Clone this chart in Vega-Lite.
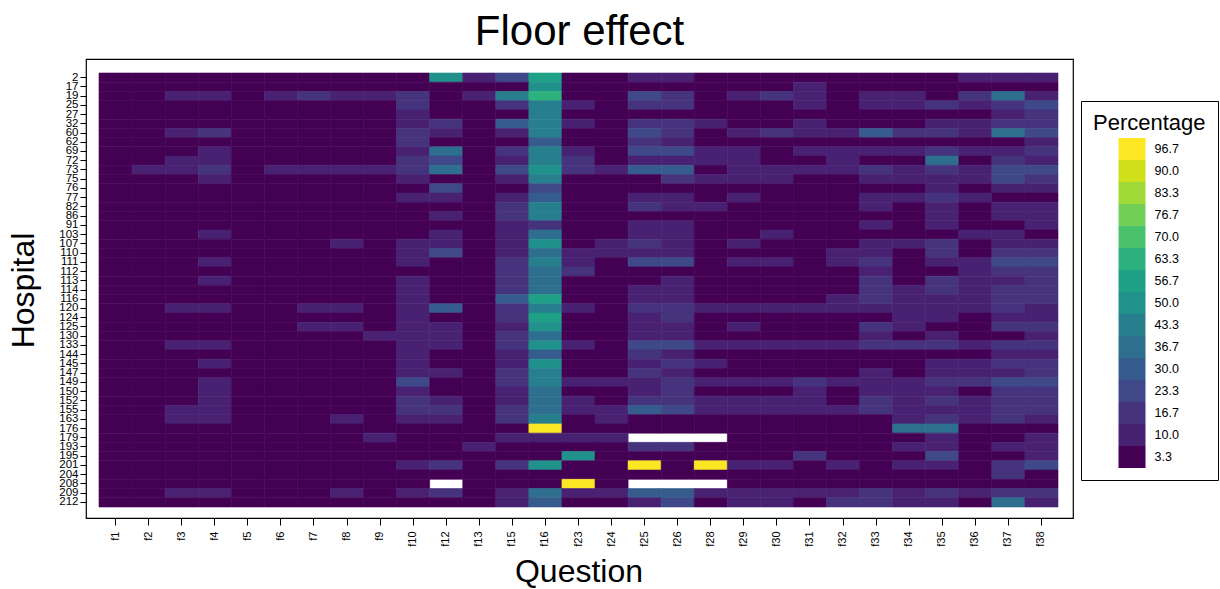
{
"$schema": "https://vega.github.io/schema/vega-lite/v6.json",
"width": 987,
"height": 459,
"autosize": {"type": "none"},
"padding": {"left": 86, "top": 59, "right": 147, "bottom": 71},
"background": "white",
"title": {"text": "Floor effect", "fontSize": 42, "fontWeight": "normal", "color": "black", "anchor": "middle", "frame": "group", "baseline": "alphabetic", "offset": 13, "dy": 41},
"config": {"view": {"stroke": "black", "strokeWidth": 1.2}, "font": "Liberation Sans"},
"data": {"values": [
{"h":2,"q":"f1","p":3.3},{"h":2,"q":"f2","p":3.3},{"h":2,"q":"f3","p":3.3},{"h":2,"q":"f4","p":3.3},{"h":2,"q":"f5","p":3.3},{"h":2,"q":"f6","p":3.3},{"h":2,"q":"f7","p":3.3},{"h":2,"q":"f8","p":3.3},{"h":2,"q":"f9","p":3.3},{"h":2,"q":"f10","p":3.3},{"h":2,"q":"f12","p":50},{"h":2,"q":"f13","p":10},{"h":2,"q":"f15","p":23.3},{"h":2,"q":"f16","p":56.7},{"h":2,"q":"f23","p":3.3},{"h":2,"q":"f24","p":3.3},{"h":2,"q":"f25","p":10},{"h":2,"q":"f26","p":10},{"h":2,"q":"f28","p":3.3},{"h":2,"q":"f29","p":3.3},{"h":2,"q":"f30","p":3.3},{"h":2,"q":"f31","p":3.3},{"h":2,"q":"f32","p":3.3},{"h":2,"q":"f33","p":3.3},{"h":2,"q":"f34","p":3.3},{"h":2,"q":"f35","p":3.3},{"h":2,"q":"f36","p":10},{"h":2,"q":"f37","p":10},{"h":2,"q":"f38","p":10},
{"h":17,"q":"f1","p":3.3},{"h":17,"q":"f2","p":3.3},{"h":17,"q":"f3","p":3.3},{"h":17,"q":"f4","p":3.3},{"h":17,"q":"f5","p":3.3},{"h":17,"q":"f6","p":3.3},{"h":17,"q":"f7","p":3.3},{"h":17,"q":"f8","p":3.3},{"h":17,"q":"f9","p":3.3},{"h":17,"q":"f10","p":3.3},{"h":17,"q":"f12","p":3.3},{"h":17,"q":"f13","p":3.3},{"h":17,"q":"f15","p":3.3},{"h":17,"q":"f16","p":50},{"h":17,"q":"f23","p":3.3},{"h":17,"q":"f24","p":3.3},{"h":17,"q":"f25","p":3.3},{"h":17,"q":"f26","p":3.3},{"h":17,"q":"f28","p":3.3},{"h":17,"q":"f29","p":3.3},{"h":17,"q":"f30","p":3.3},{"h":17,"q":"f31","p":10},{"h":17,"q":"f32","p":3.3},{"h":17,"q":"f33","p":3.3},{"h":17,"q":"f34","p":3.3},{"h":17,"q":"f35","p":3.3},{"h":17,"q":"f36","p":3.3},{"h":17,"q":"f37","p":3.3},{"h":17,"q":"f38","p":3.3},
{"h":19,"q":"f1","p":3.3},{"h":19,"q":"f2","p":3.3},{"h":19,"q":"f3","p":10},{"h":19,"q":"f4","p":10},{"h":19,"q":"f5","p":3.3},{"h":19,"q":"f6","p":10},{"h":19,"q":"f7","p":16.7},{"h":19,"q":"f8","p":10},{"h":19,"q":"f9","p":10},{"h":19,"q":"f10","p":16.7},{"h":19,"q":"f12","p":3.3},{"h":19,"q":"f13","p":10},{"h":19,"q":"f15","p":43.3},{"h":19,"q":"f16","p":63.3},{"h":19,"q":"f23","p":3.3},{"h":19,"q":"f24","p":3.3},{"h":19,"q":"f25","p":23.3},{"h":19,"q":"f26","p":16.7},{"h":19,"q":"f28","p":3.3},{"h":19,"q":"f29","p":10},{"h":19,"q":"f30","p":16.7},{"h":19,"q":"f31","p":10},{"h":19,"q":"f32","p":3.3},{"h":19,"q":"f33","p":10},{"h":19,"q":"f34","p":10},{"h":19,"q":"f35","p":3.3},{"h":19,"q":"f36","p":16.7},{"h":19,"q":"f37","p":36.7},{"h":19,"q":"f38","p":10},
{"h":25,"q":"f1","p":3.3},{"h":25,"q":"f2","p":3.3},{"h":25,"q":"f3","p":3.3},{"h":25,"q":"f4","p":3.3},{"h":25,"q":"f5","p":3.3},{"h":25,"q":"f6","p":3.3},{"h":25,"q":"f7","p":3.3},{"h":25,"q":"f8","p":3.3},{"h":25,"q":"f9","p":3.3},{"h":25,"q":"f10","p":16.7},{"h":25,"q":"f12","p":3.3},{"h":25,"q":"f13","p":3.3},{"h":25,"q":"f15","p":16.7},{"h":25,"q":"f16","p":43.3},{"h":25,"q":"f23","p":10},{"h":25,"q":"f24","p":3.3},{"h":25,"q":"f25","p":16.7},{"h":25,"q":"f26","p":16.7},{"h":25,"q":"f28","p":3.3},{"h":25,"q":"f29","p":3.3},{"h":25,"q":"f30","p":3.3},{"h":25,"q":"f31","p":10},{"h":25,"q":"f32","p":3.3},{"h":25,"q":"f33","p":10},{"h":25,"q":"f34","p":10},{"h":25,"q":"f35","p":16.7},{"h":25,"q":"f36","p":10},{"h":25,"q":"f37","p":16.7},{"h":25,"q":"f38","p":23.3},
{"h":27,"q":"f1","p":3.3},{"h":27,"q":"f2","p":3.3},{"h":27,"q":"f3","p":3.3},{"h":27,"q":"f4","p":3.3},{"h":27,"q":"f5","p":3.3},{"h":27,"q":"f6","p":3.3},{"h":27,"q":"f7","p":3.3},{"h":27,"q":"f8","p":3.3},{"h":27,"q":"f9","p":3.3},{"h":27,"q":"f10","p":10},{"h":27,"q":"f12","p":3.3},{"h":27,"q":"f13","p":3.3},{"h":27,"q":"f15","p":3.3},{"h":27,"q":"f16","p":43.3},{"h":27,"q":"f23","p":3.3},{"h":27,"q":"f24","p":3.3},{"h":27,"q":"f25","p":3.3},{"h":27,"q":"f26","p":3.3},{"h":27,"q":"f28","p":3.3},{"h":27,"q":"f29","p":3.3},{"h":27,"q":"f30","p":3.3},{"h":27,"q":"f31","p":3.3},{"h":27,"q":"f32","p":3.3},{"h":27,"q":"f33","p":3.3},{"h":27,"q":"f34","p":3.3},{"h":27,"q":"f35","p":3.3},{"h":27,"q":"f36","p":3.3},{"h":27,"q":"f37","p":10},{"h":27,"q":"f38","p":16.7},
{"h":32,"q":"f1","p":3.3},{"h":32,"q":"f2","p":3.3},{"h":32,"q":"f3","p":3.3},{"h":32,"q":"f4","p":3.3},{"h":32,"q":"f5","p":3.3},{"h":32,"q":"f6","p":3.3},{"h":32,"q":"f7","p":3.3},{"h":32,"q":"f8","p":3.3},{"h":32,"q":"f9","p":3.3},{"h":32,"q":"f10","p":10},{"h":32,"q":"f12","p":16.7},{"h":32,"q":"f13","p":3.3},{"h":32,"q":"f15","p":30},{"h":32,"q":"f16","p":43.3},{"h":32,"q":"f23","p":10},{"h":32,"q":"f24","p":3.3},{"h":32,"q":"f25","p":16.7},{"h":32,"q":"f26","p":16.7},{"h":32,"q":"f28","p":10},{"h":32,"q":"f29","p":3.3},{"h":32,"q":"f30","p":3.3},{"h":32,"q":"f31","p":10},{"h":32,"q":"f32","p":3.3},{"h":32,"q":"f33","p":3.3},{"h":32,"q":"f34","p":3.3},{"h":32,"q":"f35","p":10},{"h":32,"q":"f36","p":10},{"h":32,"q":"f37","p":16.7},{"h":32,"q":"f38","p":16.7},
{"h":60,"q":"f1","p":3.3},{"h":60,"q":"f2","p":3.3},{"h":60,"q":"f3","p":10},{"h":60,"q":"f4","p":16.7},{"h":60,"q":"f5","p":3.3},{"h":60,"q":"f6","p":3.3},{"h":60,"q":"f7","p":3.3},{"h":60,"q":"f8","p":3.3},{"h":60,"q":"f9","p":3.3},{"h":60,"q":"f10","p":16.7},{"h":60,"q":"f12","p":10},{"h":60,"q":"f13","p":3.3},{"h":60,"q":"f15","p":10},{"h":60,"q":"f16","p":43.3},{"h":60,"q":"f23","p":3.3},{"h":60,"q":"f24","p":3.3},{"h":60,"q":"f25","p":23.3},{"h":60,"q":"f26","p":16.7},{"h":60,"q":"f28","p":3.3},{"h":60,"q":"f29","p":10},{"h":60,"q":"f30","p":16.7},{"h":60,"q":"f31","p":10},{"h":60,"q":"f32","p":10},{"h":60,"q":"f33","p":30},{"h":60,"q":"f34","p":16.7},{"h":60,"q":"f35","p":16.7},{"h":60,"q":"f36","p":10},{"h":60,"q":"f37","p":36.7},{"h":60,"q":"f38","p":23.3},
{"h":62,"q":"f1","p":3.3},{"h":62,"q":"f2","p":3.3},{"h":62,"q":"f3","p":3.3},{"h":62,"q":"f4","p":3.3},{"h":62,"q":"f5","p":3.3},{"h":62,"q":"f6","p":3.3},{"h":62,"q":"f7","p":3.3},{"h":62,"q":"f8","p":3.3},{"h":62,"q":"f9","p":3.3},{"h":62,"q":"f10","p":16.7},{"h":62,"q":"f12","p":3.3},{"h":62,"q":"f13","p":3.3},{"h":62,"q":"f15","p":3.3},{"h":62,"q":"f16","p":30},{"h":62,"q":"f23","p":3.3},{"h":62,"q":"f24","p":3.3},{"h":62,"q":"f25","p":16.7},{"h":62,"q":"f26","p":10},{"h":62,"q":"f28","p":3.3},{"h":62,"q":"f29","p":3.3},{"h":62,"q":"f30","p":3.3},{"h":62,"q":"f31","p":3.3},{"h":62,"q":"f32","p":3.3},{"h":62,"q":"f33","p":3.3},{"h":62,"q":"f34","p":3.3},{"h":62,"q":"f35","p":3.3},{"h":62,"q":"f36","p":3.3},{"h":62,"q":"f37","p":3.3},{"h":62,"q":"f38","p":10},
{"h":69,"q":"f1","p":3.3},{"h":69,"q":"f2","p":3.3},{"h":69,"q":"f3","p":3.3},{"h":69,"q":"f4","p":10},{"h":69,"q":"f5","p":3.3},{"h":69,"q":"f6","p":3.3},{"h":69,"q":"f7","p":3.3},{"h":69,"q":"f8","p":3.3},{"h":69,"q":"f9","p":3.3},{"h":69,"q":"f10","p":10},{"h":69,"q":"f12","p":36.7},{"h":69,"q":"f13","p":3.3},{"h":69,"q":"f15","p":16.7},{"h":69,"q":"f16","p":43.3},{"h":69,"q":"f23","p":10},{"h":69,"q":"f24","p":3.3},{"h":69,"q":"f25","p":23.3},{"h":69,"q":"f26","p":23.3},{"h":69,"q":"f28","p":10},{"h":69,"q":"f29","p":10},{"h":69,"q":"f30","p":3.3},{"h":69,"q":"f31","p":10},{"h":69,"q":"f32","p":10},{"h":69,"q":"f33","p":10},{"h":69,"q":"f34","p":10},{"h":69,"q":"f35","p":16.7},{"h":69,"q":"f36","p":10},{"h":69,"q":"f37","p":10},{"h":69,"q":"f38","p":16.7},
{"h":72,"q":"f1","p":3.3},{"h":72,"q":"f2","p":3.3},{"h":72,"q":"f3","p":10},{"h":72,"q":"f4","p":10},{"h":72,"q":"f5","p":3.3},{"h":72,"q":"f6","p":3.3},{"h":72,"q":"f7","p":3.3},{"h":72,"q":"f8","p":3.3},{"h":72,"q":"f9","p":3.3},{"h":72,"q":"f10","p":16.7},{"h":72,"q":"f12","p":23.3},{"h":72,"q":"f13","p":3.3},{"h":72,"q":"f15","p":10},{"h":72,"q":"f16","p":43.3},{"h":72,"q":"f23","p":16.7},{"h":72,"q":"f24","p":3.3},{"h":72,"q":"f25","p":10},{"h":72,"q":"f26","p":10},{"h":72,"q":"f28","p":10},{"h":72,"q":"f29","p":10},{"h":72,"q":"f30","p":3.3},{"h":72,"q":"f31","p":3.3},{"h":72,"q":"f32","p":10},{"h":72,"q":"f33","p":3.3},{"h":72,"q":"f34","p":3.3},{"h":72,"q":"f35","p":36.7},{"h":72,"q":"f36","p":3.3},{"h":72,"q":"f37","p":16.7},{"h":72,"q":"f38","p":10},
{"h":73,"q":"f1","p":3.3},{"h":73,"q":"f2","p":10},{"h":73,"q":"f3","p":10},{"h":73,"q":"f4","p":16.7},{"h":73,"q":"f5","p":3.3},{"h":73,"q":"f6","p":10},{"h":73,"q":"f7","p":10},{"h":73,"q":"f8","p":10},{"h":73,"q":"f9","p":10},{"h":73,"q":"f10","p":16.7},{"h":73,"q":"f12","p":36.7},{"h":73,"q":"f13","p":3.3},{"h":73,"q":"f15","p":23.3},{"h":73,"q":"f16","p":50},{"h":73,"q":"f23","p":16.7},{"h":73,"q":"f24","p":10},{"h":73,"q":"f25","p":30},{"h":73,"q":"f26","p":30},{"h":73,"q":"f28","p":3.3},{"h":73,"q":"f29","p":10},{"h":73,"q":"f30","p":10},{"h":73,"q":"f31","p":10},{"h":73,"q":"f32","p":10},{"h":73,"q":"f33","p":16.7},{"h":73,"q":"f34","p":10},{"h":73,"q":"f35","p":16.7},{"h":73,"q":"f36","p":10},{"h":73,"q":"f37","p":23.3},{"h":73,"q":"f38","p":23.3},
{"h":75,"q":"f1","p":3.3},{"h":75,"q":"f2","p":3.3},{"h":75,"q":"f3","p":3.3},{"h":75,"q":"f4","p":10},{"h":75,"q":"f5","p":3.3},{"h":75,"q":"f6","p":3.3},{"h":75,"q":"f7","p":3.3},{"h":75,"q":"f8","p":3.3},{"h":75,"q":"f9","p":3.3},{"h":75,"q":"f10","p":10},{"h":75,"q":"f12","p":3.3},{"h":75,"q":"f13","p":3.3},{"h":75,"q":"f15","p":10},{"h":75,"q":"f16","p":43.3},{"h":75,"q":"f23","p":3.3},{"h":75,"q":"f24","p":3.3},{"h":75,"q":"f25","p":3.3},{"h":75,"q":"f26","p":16.7},{"h":75,"q":"f28","p":10},{"h":75,"q":"f29","p":10},{"h":75,"q":"f30","p":10},{"h":75,"q":"f31","p":3.3},{"h":75,"q":"f32","p":3.3},{"h":75,"q":"f33","p":10},{"h":75,"q":"f34","p":10},{"h":75,"q":"f35","p":10},{"h":75,"q":"f36","p":10},{"h":75,"q":"f37","p":23.3},{"h":75,"q":"f38","p":16.7},
{"h":76,"q":"f1","p":3.3},{"h":76,"q":"f2","p":3.3},{"h":76,"q":"f3","p":3.3},{"h":76,"q":"f4","p":3.3},{"h":76,"q":"f5","p":3.3},{"h":76,"q":"f6","p":3.3},{"h":76,"q":"f7","p":3.3},{"h":76,"q":"f8","p":3.3},{"h":76,"q":"f9","p":3.3},{"h":76,"q":"f10","p":3.3},{"h":76,"q":"f12","p":23.3},{"h":76,"q":"f13","p":3.3},{"h":76,"q":"f15","p":3.3},{"h":76,"q":"f16","p":23.3},{"h":76,"q":"f23","p":3.3},{"h":76,"q":"f24","p":3.3},{"h":76,"q":"f25","p":3.3},{"h":76,"q":"f26","p":3.3},{"h":76,"q":"f28","p":3.3},{"h":76,"q":"f29","p":3.3},{"h":76,"q":"f30","p":3.3},{"h":76,"q":"f31","p":3.3},{"h":76,"q":"f32","p":3.3},{"h":76,"q":"f33","p":3.3},{"h":76,"q":"f34","p":3.3},{"h":76,"q":"f35","p":10},{"h":76,"q":"f36","p":3.3},{"h":76,"q":"f37","p":10},{"h":76,"q":"f38","p":10},
{"h":77,"q":"f1","p":3.3},{"h":77,"q":"f2","p":3.3},{"h":77,"q":"f3","p":3.3},{"h":77,"q":"f4","p":3.3},{"h":77,"q":"f5","p":3.3},{"h":77,"q":"f6","p":3.3},{"h":77,"q":"f7","p":3.3},{"h":77,"q":"f8","p":3.3},{"h":77,"q":"f9","p":3.3},{"h":77,"q":"f10","p":10},{"h":77,"q":"f12","p":10},{"h":77,"q":"f13","p":3.3},{"h":77,"q":"f15","p":10},{"h":77,"q":"f16","p":30},{"h":77,"q":"f23","p":3.3},{"h":77,"q":"f24","p":3.3},{"h":77,"q":"f25","p":10},{"h":77,"q":"f26","p":10},{"h":77,"q":"f28","p":3.3},{"h":77,"q":"f29","p":10},{"h":77,"q":"f30","p":3.3},{"h":77,"q":"f31","p":3.3},{"h":77,"q":"f32","p":3.3},{"h":77,"q":"f33","p":10},{"h":77,"q":"f34","p":10},{"h":77,"q":"f35","p":16.7},{"h":77,"q":"f36","p":10},{"h":77,"q":"f37","p":3.3},{"h":77,"q":"f38","p":3.3},
{"h":82,"q":"f1","p":3.3},{"h":82,"q":"f2","p":3.3},{"h":82,"q":"f3","p":3.3},{"h":82,"q":"f4","p":3.3},{"h":82,"q":"f5","p":3.3},{"h":82,"q":"f6","p":3.3},{"h":82,"q":"f7","p":3.3},{"h":82,"q":"f8","p":3.3},{"h":82,"q":"f9","p":3.3},{"h":82,"q":"f10","p":3.3},{"h":82,"q":"f12","p":3.3},{"h":82,"q":"f13","p":3.3},{"h":82,"q":"f15","p":16.7},{"h":82,"q":"f16","p":43.3},{"h":82,"q":"f23","p":3.3},{"h":82,"q":"f24","p":3.3},{"h":82,"q":"f25","p":16.7},{"h":82,"q":"f26","p":10},{"h":82,"q":"f28","p":10},{"h":82,"q":"f29","p":3.3},{"h":82,"q":"f30","p":3.3},{"h":82,"q":"f31","p":3.3},{"h":82,"q":"f32","p":3.3},{"h":82,"q":"f33","p":10},{"h":82,"q":"f34","p":3.3},{"h":82,"q":"f35","p":10},{"h":82,"q":"f36","p":3.3},{"h":82,"q":"f37","p":10},{"h":82,"q":"f38","p":10},
{"h":86,"q":"f1","p":3.3},{"h":86,"q":"f2","p":3.3},{"h":86,"q":"f3","p":3.3},{"h":86,"q":"f4","p":3.3},{"h":86,"q":"f5","p":3.3},{"h":86,"q":"f6","p":3.3},{"h":86,"q":"f7","p":3.3},{"h":86,"q":"f8","p":3.3},{"h":86,"q":"f9","p":3.3},{"h":86,"q":"f10","p":3.3},{"h":86,"q":"f12","p":10},{"h":86,"q":"f13","p":3.3},{"h":86,"q":"f15","p":16.7},{"h":86,"q":"f16","p":43.3},{"h":86,"q":"f23","p":3.3},{"h":86,"q":"f24","p":3.3},{"h":86,"q":"f25","p":3.3},{"h":86,"q":"f26","p":3.3},{"h":86,"q":"f28","p":3.3},{"h":86,"q":"f29","p":3.3},{"h":86,"q":"f30","p":3.3},{"h":86,"q":"f31","p":3.3},{"h":86,"q":"f32","p":3.3},{"h":86,"q":"f33","p":3.3},{"h":86,"q":"f34","p":3.3},{"h":86,"q":"f35","p":10},{"h":86,"q":"f36","p":3.3},{"h":86,"q":"f37","p":10},{"h":86,"q":"f38","p":10},
{"h":91,"q":"f1","p":3.3},{"h":91,"q":"f2","p":3.3},{"h":91,"q":"f3","p":3.3},{"h":91,"q":"f4","p":3.3},{"h":91,"q":"f5","p":3.3},{"h":91,"q":"f6","p":3.3},{"h":91,"q":"f7","p":3.3},{"h":91,"q":"f8","p":3.3},{"h":91,"q":"f9","p":3.3},{"h":91,"q":"f10","p":3.3},{"h":91,"q":"f12","p":3.3},{"h":91,"q":"f13","p":3.3},{"h":91,"q":"f15","p":10},{"h":91,"q":"f16","p":16.7},{"h":91,"q":"f23","p":3.3},{"h":91,"q":"f24","p":3.3},{"h":91,"q":"f25","p":10},{"h":91,"q":"f26","p":10},{"h":91,"q":"f28","p":3.3},{"h":91,"q":"f29","p":3.3},{"h":91,"q":"f30","p":3.3},{"h":91,"q":"f31","p":3.3},{"h":91,"q":"f32","p":3.3},{"h":91,"q":"f33","p":10},{"h":91,"q":"f34","p":3.3},{"h":91,"q":"f35","p":10},{"h":91,"q":"f36","p":3.3},{"h":91,"q":"f37","p":3.3},{"h":91,"q":"f38","p":10},
{"h":103,"q":"f1","p":3.3},{"h":103,"q":"f2","p":3.3},{"h":103,"q":"f3","p":3.3},{"h":103,"q":"f4","p":10},{"h":103,"q":"f5","p":3.3},{"h":103,"q":"f6","p":3.3},{"h":103,"q":"f7","p":3.3},{"h":103,"q":"f8","p":3.3},{"h":103,"q":"f9","p":3.3},{"h":103,"q":"f10","p":3.3},{"h":103,"q":"f12","p":10},{"h":103,"q":"f13","p":3.3},{"h":103,"q":"f15","p":10},{"h":103,"q":"f16","p":36.7},{"h":103,"q":"f23","p":3.3},{"h":103,"q":"f24","p":3.3},{"h":103,"q":"f25","p":10},{"h":103,"q":"f26","p":10},{"h":103,"q":"f28","p":3.3},{"h":103,"q":"f29","p":3.3},{"h":103,"q":"f30","p":10},{"h":103,"q":"f31","p":3.3},{"h":103,"q":"f32","p":3.3},{"h":103,"q":"f33","p":3.3},{"h":103,"q":"f34","p":3.3},{"h":103,"q":"f35","p":3.3},{"h":103,"q":"f36","p":10},{"h":103,"q":"f37","p":10},{"h":103,"q":"f38","p":3.3},
{"h":107,"q":"f1","p":3.3},{"h":107,"q":"f2","p":3.3},{"h":107,"q":"f3","p":3.3},{"h":107,"q":"f4","p":3.3},{"h":107,"q":"f5","p":3.3},{"h":107,"q":"f6","p":3.3},{"h":107,"q":"f7","p":3.3},{"h":107,"q":"f8","p":10},{"h":107,"q":"f9","p":3.3},{"h":107,"q":"f10","p":10},{"h":107,"q":"f12","p":10},{"h":107,"q":"f13","p":3.3},{"h":107,"q":"f15","p":10},{"h":107,"q":"f16","p":50},{"h":107,"q":"f23","p":3.3},{"h":107,"q":"f24","p":10},{"h":107,"q":"f25","p":16.7},{"h":107,"q":"f26","p":10},{"h":107,"q":"f28","p":3.3},{"h":107,"q":"f29","p":10},{"h":107,"q":"f30","p":3.3},{"h":107,"q":"f31","p":3.3},{"h":107,"q":"f32","p":3.3},{"h":107,"q":"f33","p":10},{"h":107,"q":"f34","p":10},{"h":107,"q":"f35","p":16.7},{"h":107,"q":"f36","p":3.3},{"h":107,"q":"f37","p":10},{"h":107,"q":"f38","p":10},
{"h":110,"q":"f1","p":3.3},{"h":110,"q":"f2","p":3.3},{"h":110,"q":"f3","p":3.3},{"h":110,"q":"f4","p":3.3},{"h":110,"q":"f5","p":3.3},{"h":110,"q":"f6","p":3.3},{"h":110,"q":"f7","p":3.3},{"h":110,"q":"f8","p":3.3},{"h":110,"q":"f9","p":3.3},{"h":110,"q":"f10","p":10},{"h":110,"q":"f12","p":23.3},{"h":110,"q":"f13","p":3.3},{"h":110,"q":"f15","p":10},{"h":110,"q":"f16","p":36.7},{"h":110,"q":"f23","p":10},{"h":110,"q":"f24","p":10},{"h":110,"q":"f25","p":10},{"h":110,"q":"f26","p":10},{"h":110,"q":"f28","p":3.3},{"h":110,"q":"f29","p":3.3},{"h":110,"q":"f30","p":3.3},{"h":110,"q":"f31","p":3.3},{"h":110,"q":"f32","p":10},{"h":110,"q":"f33","p":10},{"h":110,"q":"f34","p":3.3},{"h":110,"q":"f35","p":16.7},{"h":110,"q":"f36","p":3.3},{"h":110,"q":"f37","p":16.7},{"h":110,"q":"f38","p":16.7},
{"h":111,"q":"f1","p":3.3},{"h":111,"q":"f2","p":3.3},{"h":111,"q":"f3","p":3.3},{"h":111,"q":"f4","p":10},{"h":111,"q":"f5","p":3.3},{"h":111,"q":"f6","p":3.3},{"h":111,"q":"f7","p":3.3},{"h":111,"q":"f8","p":3.3},{"h":111,"q":"f9","p":3.3},{"h":111,"q":"f10","p":10},{"h":111,"q":"f12","p":3.3},{"h":111,"q":"f13","p":3.3},{"h":111,"q":"f15","p":16.7},{"h":111,"q":"f16","p":43.3},{"h":111,"q":"f23","p":10},{"h":111,"q":"f24","p":3.3},{"h":111,"q":"f25","p":23.3},{"h":111,"q":"f26","p":23.3},{"h":111,"q":"f28","p":3.3},{"h":111,"q":"f29","p":10},{"h":111,"q":"f30","p":10},{"h":111,"q":"f31","p":3.3},{"h":111,"q":"f32","p":10},{"h":111,"q":"f33","p":16.7},{"h":111,"q":"f34","p":3.3},{"h":111,"q":"f35","p":10},{"h":111,"q":"f36","p":10},{"h":111,"q":"f37","p":23.3},{"h":111,"q":"f38","p":23.3},
{"h":112,"q":"f1","p":3.3},{"h":112,"q":"f2","p":3.3},{"h":112,"q":"f3","p":3.3},{"h":112,"q":"f4","p":3.3},{"h":112,"q":"f5","p":3.3},{"h":112,"q":"f6","p":3.3},{"h":112,"q":"f7","p":3.3},{"h":112,"q":"f8","p":3.3},{"h":112,"q":"f9","p":3.3},{"h":112,"q":"f10","p":3.3},{"h":112,"q":"f12","p":3.3},{"h":112,"q":"f13","p":3.3},{"h":112,"q":"f15","p":16.7},{"h":112,"q":"f16","p":36.7},{"h":112,"q":"f23","p":16.7},{"h":112,"q":"f24","p":3.3},{"h":112,"q":"f25","p":3.3},{"h":112,"q":"f26","p":3.3},{"h":112,"q":"f28","p":3.3},{"h":112,"q":"f29","p":3.3},{"h":112,"q":"f30","p":3.3},{"h":112,"q":"f31","p":3.3},{"h":112,"q":"f32","p":3.3},{"h":112,"q":"f33","p":10},{"h":112,"q":"f34","p":3.3},{"h":112,"q":"f35","p":3.3},{"h":112,"q":"f36","p":10},{"h":112,"q":"f37","p":16.7},{"h":112,"q":"f38","p":16.7},
{"h":113,"q":"f1","p":3.3},{"h":113,"q":"f2","p":3.3},{"h":113,"q":"f3","p":3.3},{"h":113,"q":"f4","p":10},{"h":113,"q":"f5","p":3.3},{"h":113,"q":"f6","p":3.3},{"h":113,"q":"f7","p":3.3},{"h":113,"q":"f8","p":3.3},{"h":113,"q":"f9","p":3.3},{"h":113,"q":"f10","p":10},{"h":113,"q":"f12","p":3.3},{"h":113,"q":"f13","p":3.3},{"h":113,"q":"f15","p":16.7},{"h":113,"q":"f16","p":36.7},{"h":113,"q":"f23","p":3.3},{"h":113,"q":"f24","p":3.3},{"h":113,"q":"f25","p":3.3},{"h":113,"q":"f26","p":10},{"h":113,"q":"f28","p":3.3},{"h":113,"q":"f29","p":3.3},{"h":113,"q":"f30","p":3.3},{"h":113,"q":"f31","p":3.3},{"h":113,"q":"f32","p":3.3},{"h":113,"q":"f33","p":16.7},{"h":113,"q":"f34","p":3.3},{"h":113,"q":"f35","p":16.7},{"h":113,"q":"f36","p":10},{"h":113,"q":"f37","p":10},{"h":113,"q":"f38","p":16.7},
{"h":114,"q":"f1","p":3.3},{"h":114,"q":"f2","p":3.3},{"h":114,"q":"f3","p":3.3},{"h":114,"q":"f4","p":3.3},{"h":114,"q":"f5","p":3.3},{"h":114,"q":"f6","p":3.3},{"h":114,"q":"f7","p":3.3},{"h":114,"q":"f8","p":3.3},{"h":114,"q":"f9","p":3.3},{"h":114,"q":"f10","p":10},{"h":114,"q":"f12","p":3.3},{"h":114,"q":"f13","p":3.3},{"h":114,"q":"f15","p":16.7},{"h":114,"q":"f16","p":36.7},{"h":114,"q":"f23","p":3.3},{"h":114,"q":"f24","p":3.3},{"h":114,"q":"f25","p":10},{"h":114,"q":"f26","p":10},{"h":114,"q":"f28","p":3.3},{"h":114,"q":"f29","p":3.3},{"h":114,"q":"f30","p":3.3},{"h":114,"q":"f31","p":3.3},{"h":114,"q":"f32","p":3.3},{"h":114,"q":"f33","p":16.7},{"h":114,"q":"f34","p":10},{"h":114,"q":"f35","p":16.7},{"h":114,"q":"f36","p":10},{"h":114,"q":"f37","p":16.7},{"h":114,"q":"f38","p":16.7},
{"h":116,"q":"f1","p":3.3},{"h":116,"q":"f2","p":3.3},{"h":116,"q":"f3","p":3.3},{"h":116,"q":"f4","p":3.3},{"h":116,"q":"f5","p":3.3},{"h":116,"q":"f6","p":3.3},{"h":116,"q":"f7","p":3.3},{"h":116,"q":"f8","p":3.3},{"h":116,"q":"f9","p":3.3},{"h":116,"q":"f10","p":10},{"h":116,"q":"f12","p":3.3},{"h":116,"q":"f13","p":3.3},{"h":116,"q":"f15","p":30},{"h":116,"q":"f16","p":56.7},{"h":116,"q":"f23","p":3.3},{"h":116,"q":"f24","p":3.3},{"h":116,"q":"f25","p":10},{"h":116,"q":"f26","p":10},{"h":116,"q":"f28","p":3.3},{"h":116,"q":"f29","p":3.3},{"h":116,"q":"f30","p":3.3},{"h":116,"q":"f31","p":3.3},{"h":116,"q":"f32","p":10},{"h":116,"q":"f33","p":16.7},{"h":116,"q":"f34","p":10},{"h":116,"q":"f35","p":10},{"h":116,"q":"f36","p":10},{"h":116,"q":"f37","p":16.7},{"h":116,"q":"f38","p":16.7},
{"h":120,"q":"f1","p":3.3},{"h":120,"q":"f2","p":3.3},{"h":120,"q":"f3","p":10},{"h":120,"q":"f4","p":10},{"h":120,"q":"f5","p":3.3},{"h":120,"q":"f6","p":3.3},{"h":120,"q":"f7","p":10},{"h":120,"q":"f8","p":10},{"h":120,"q":"f9","p":3.3},{"h":120,"q":"f10","p":10},{"h":120,"q":"f12","p":30},{"h":120,"q":"f13","p":3.3},{"h":120,"q":"f15","p":16.7},{"h":120,"q":"f16","p":43.3},{"h":120,"q":"f23","p":10},{"h":120,"q":"f24","p":3.3},{"h":120,"q":"f25","p":16.7},{"h":120,"q":"f26","p":16.7},{"h":120,"q":"f28","p":10},{"h":120,"q":"f29","p":10},{"h":120,"q":"f30","p":10},{"h":120,"q":"f31","p":10},{"h":120,"q":"f32","p":10},{"h":120,"q":"f33","p":10},{"h":120,"q":"f34","p":10},{"h":120,"q":"f35","p":10},{"h":120,"q":"f36","p":10},{"h":120,"q":"f37","p":16.7},{"h":120,"q":"f38","p":10},
{"h":124,"q":"f1","p":3.3},{"h":124,"q":"f2","p":3.3},{"h":124,"q":"f3","p":3.3},{"h":124,"q":"f4","p":3.3},{"h":124,"q":"f5","p":3.3},{"h":124,"q":"f6","p":3.3},{"h":124,"q":"f7","p":3.3},{"h":124,"q":"f8","p":3.3},{"h":124,"q":"f9","p":3.3},{"h":124,"q":"f10","p":10},{"h":124,"q":"f12","p":3.3},{"h":124,"q":"f13","p":3.3},{"h":124,"q":"f15","p":16.7},{"h":124,"q":"f16","p":56.7},{"h":124,"q":"f23","p":3.3},{"h":124,"q":"f24","p":3.3},{"h":124,"q":"f25","p":10},{"h":124,"q":"f26","p":16.7},{"h":124,"q":"f28","p":3.3},{"h":124,"q":"f29","p":3.3},{"h":124,"q":"f30","p":3.3},{"h":124,"q":"f31","p":3.3},{"h":124,"q":"f32","p":3.3},{"h":124,"q":"f33","p":3.3},{"h":124,"q":"f34","p":10},{"h":124,"q":"f35","p":10},{"h":124,"q":"f36","p":3.3},{"h":124,"q":"f37","p":10},{"h":124,"q":"f38","p":10},
{"h":125,"q":"f1","p":3.3},{"h":125,"q":"f2","p":3.3},{"h":125,"q":"f3","p":3.3},{"h":125,"q":"f4","p":3.3},{"h":125,"q":"f5","p":3.3},{"h":125,"q":"f6","p":3.3},{"h":125,"q":"f7","p":10},{"h":125,"q":"f8","p":10},{"h":125,"q":"f9","p":3.3},{"h":125,"q":"f10","p":10},{"h":125,"q":"f12","p":10},{"h":125,"q":"f13","p":3.3},{"h":125,"q":"f15","p":10},{"h":125,"q":"f16","p":50},{"h":125,"q":"f23","p":3.3},{"h":125,"q":"f24","p":3.3},{"h":125,"q":"f25","p":10},{"h":125,"q":"f26","p":10},{"h":125,"q":"f28","p":3.3},{"h":125,"q":"f29","p":10},{"h":125,"q":"f30","p":3.3},{"h":125,"q":"f31","p":3.3},{"h":125,"q":"f32","p":3.3},{"h":125,"q":"f33","p":16.7},{"h":125,"q":"f34","p":10},{"h":125,"q":"f35","p":3.3},{"h":125,"q":"f36","p":3.3},{"h":125,"q":"f37","p":16.7},{"h":125,"q":"f38","p":16.7},
{"h":130,"q":"f1","p":3.3},{"h":130,"q":"f2","p":3.3},{"h":130,"q":"f3","p":3.3},{"h":130,"q":"f4","p":3.3},{"h":130,"q":"f5","p":3.3},{"h":130,"q":"f6","p":3.3},{"h":130,"q":"f7","p":3.3},{"h":130,"q":"f8","p":3.3},{"h":130,"q":"f9","p":10},{"h":130,"q":"f10","p":10},{"h":130,"q":"f12","p":10},{"h":130,"q":"f13","p":3.3},{"h":130,"q":"f15","p":16.7},{"h":130,"q":"f16","p":36.7},{"h":130,"q":"f23","p":3.3},{"h":130,"q":"f24","p":3.3},{"h":130,"q":"f25","p":10},{"h":130,"q":"f26","p":10},{"h":130,"q":"f28","p":3.3},{"h":130,"q":"f29","p":3.3},{"h":130,"q":"f30","p":3.3},{"h":130,"q":"f31","p":3.3},{"h":130,"q":"f32","p":3.3},{"h":130,"q":"f33","p":10},{"h":130,"q":"f34","p":3.3},{"h":130,"q":"f35","p":10},{"h":130,"q":"f36","p":3.3},{"h":130,"q":"f37","p":3.3},{"h":130,"q":"f38","p":10},
{"h":133,"q":"f1","p":3.3},{"h":133,"q":"f2","p":3.3},{"h":133,"q":"f3","p":10},{"h":133,"q":"f4","p":10},{"h":133,"q":"f5","p":3.3},{"h":133,"q":"f6","p":3.3},{"h":133,"q":"f7","p":3.3},{"h":133,"q":"f8","p":3.3},{"h":133,"q":"f9","p":3.3},{"h":133,"q":"f10","p":10},{"h":133,"q":"f12","p":10},{"h":133,"q":"f13","p":3.3},{"h":133,"q":"f15","p":16.7},{"h":133,"q":"f16","p":50},{"h":133,"q":"f23","p":10},{"h":133,"q":"f24","p":3.3},{"h":133,"q":"f25","p":23.3},{"h":133,"q":"f26","p":23.3},{"h":133,"q":"f28","p":10},{"h":133,"q":"f29","p":10},{"h":133,"q":"f30","p":10},{"h":133,"q":"f31","p":10},{"h":133,"q":"f32","p":10},{"h":133,"q":"f33","p":16.7},{"h":133,"q":"f34","p":16.7},{"h":133,"q":"f35","p":16.7},{"h":133,"q":"f36","p":10},{"h":133,"q":"f37","p":16.7},{"h":133,"q":"f38","p":16.7},
{"h":144,"q":"f1","p":3.3},{"h":144,"q":"f2","p":3.3},{"h":144,"q":"f3","p":3.3},{"h":144,"q":"f4","p":3.3},{"h":144,"q":"f5","p":3.3},{"h":144,"q":"f6","p":3.3},{"h":144,"q":"f7","p":3.3},{"h":144,"q":"f8","p":3.3},{"h":144,"q":"f9","p":3.3},{"h":144,"q":"f10","p":10},{"h":144,"q":"f12","p":3.3},{"h":144,"q":"f13","p":3.3},{"h":144,"q":"f15","p":10},{"h":144,"q":"f16","p":30},{"h":144,"q":"f23","p":3.3},{"h":144,"q":"f24","p":3.3},{"h":144,"q":"f25","p":16.7},{"h":144,"q":"f26","p":10},{"h":144,"q":"f28","p":3.3},{"h":144,"q":"f29","p":3.3},{"h":144,"q":"f30","p":3.3},{"h":144,"q":"f31","p":3.3},{"h":144,"q":"f32","p":3.3},{"h":144,"q":"f33","p":3.3},{"h":144,"q":"f34","p":3.3},{"h":144,"q":"f35","p":3.3},{"h":144,"q":"f36","p":3.3},{"h":144,"q":"f37","p":10},{"h":144,"q":"f38","p":10},
{"h":145,"q":"f1","p":3.3},{"h":145,"q":"f2","p":3.3},{"h":145,"q":"f3","p":3.3},{"h":145,"q":"f4","p":10},{"h":145,"q":"f5","p":3.3},{"h":145,"q":"f6","p":3.3},{"h":145,"q":"f7","p":3.3},{"h":145,"q":"f8","p":3.3},{"h":145,"q":"f9","p":3.3},{"h":145,"q":"f10","p":10},{"h":145,"q":"f12","p":3.3},{"h":145,"q":"f13","p":3.3},{"h":145,"q":"f15","p":10},{"h":145,"q":"f16","p":50},{"h":145,"q":"f23","p":3.3},{"h":145,"q":"f24","p":3.3},{"h":145,"q":"f25","p":10},{"h":145,"q":"f26","p":16.7},{"h":145,"q":"f28","p":10},{"h":145,"q":"f29","p":3.3},{"h":145,"q":"f30","p":3.3},{"h":145,"q":"f31","p":3.3},{"h":145,"q":"f32","p":3.3},{"h":145,"q":"f33","p":3.3},{"h":145,"q":"f34","p":3.3},{"h":145,"q":"f35","p":10},{"h":145,"q":"f36","p":10},{"h":145,"q":"f37","p":16.7},{"h":145,"q":"f38","p":16.7},
{"h":147,"q":"f1","p":3.3},{"h":147,"q":"f2","p":3.3},{"h":147,"q":"f3","p":3.3},{"h":147,"q":"f4","p":3.3},{"h":147,"q":"f5","p":3.3},{"h":147,"q":"f6","p":3.3},{"h":147,"q":"f7","p":3.3},{"h":147,"q":"f8","p":3.3},{"h":147,"q":"f9","p":3.3},{"h":147,"q":"f10","p":10},{"h":147,"q":"f12","p":10},{"h":147,"q":"f13","p":3.3},{"h":147,"q":"f15","p":16.7},{"h":147,"q":"f16","p":43.3},{"h":147,"q":"f23","p":3.3},{"h":147,"q":"f24","p":3.3},{"h":147,"q":"f25","p":16.7},{"h":147,"q":"f26","p":10},{"h":147,"q":"f28","p":3.3},{"h":147,"q":"f29","p":3.3},{"h":147,"q":"f30","p":3.3},{"h":147,"q":"f31","p":3.3},{"h":147,"q":"f32","p":3.3},{"h":147,"q":"f33","p":10},{"h":147,"q":"f34","p":3.3},{"h":147,"q":"f35","p":10},{"h":147,"q":"f36","p":10},{"h":147,"q":"f37","p":10},{"h":147,"q":"f38","p":16.7},
{"h":149,"q":"f1","p":3.3},{"h":149,"q":"f2","p":3.3},{"h":149,"q":"f3","p":3.3},{"h":149,"q":"f4","p":10},{"h":149,"q":"f5","p":3.3},{"h":149,"q":"f6","p":3.3},{"h":149,"q":"f7","p":3.3},{"h":149,"q":"f8","p":3.3},{"h":149,"q":"f9","p":3.3},{"h":149,"q":"f10","p":23.3},{"h":149,"q":"f12","p":3.3},{"h":149,"q":"f13","p":3.3},{"h":149,"q":"f15","p":16.7},{"h":149,"q":"f16","p":43.3},{"h":149,"q":"f23","p":10},{"h":149,"q":"f24","p":10},{"h":149,"q":"f25","p":10},{"h":149,"q":"f26","p":16.7},{"h":149,"q":"f28","p":10},{"h":149,"q":"f29","p":10},{"h":149,"q":"f30","p":10},{"h":149,"q":"f31","p":16.7},{"h":149,"q":"f32","p":10},{"h":149,"q":"f33","p":10},{"h":149,"q":"f34","p":10},{"h":149,"q":"f35","p":16.7},{"h":149,"q":"f36","p":16.7},{"h":149,"q":"f37","p":23.3},{"h":149,"q":"f38","p":23.3},
{"h":150,"q":"f1","p":3.3},{"h":150,"q":"f2","p":3.3},{"h":150,"q":"f3","p":3.3},{"h":150,"q":"f4","p":10},{"h":150,"q":"f5","p":3.3},{"h":150,"q":"f6","p":3.3},{"h":150,"q":"f7","p":3.3},{"h":150,"q":"f8","p":3.3},{"h":150,"q":"f9","p":3.3},{"h":150,"q":"f10","p":10},{"h":150,"q":"f12","p":3.3},{"h":150,"q":"f13","p":3.3},{"h":150,"q":"f15","p":10},{"h":150,"q":"f16","p":36.7},{"h":150,"q":"f23","p":3.3},{"h":150,"q":"f24","p":3.3},{"h":150,"q":"f25","p":10},{"h":150,"q":"f26","p":16.7},{"h":150,"q":"f28","p":3.3},{"h":150,"q":"f29","p":3.3},{"h":150,"q":"f30","p":3.3},{"h":150,"q":"f31","p":10},{"h":150,"q":"f32","p":3.3},{"h":150,"q":"f33","p":10},{"h":150,"q":"f34","p":10},{"h":150,"q":"f35","p":10},{"h":150,"q":"f36","p":3.3},{"h":150,"q":"f37","p":16.7},{"h":150,"q":"f38","p":16.7},
{"h":152,"q":"f1","p":3.3},{"h":152,"q":"f2","p":3.3},{"h":152,"q":"f3","p":3.3},{"h":152,"q":"f4","p":10},{"h":152,"q":"f5","p":3.3},{"h":152,"q":"f6","p":3.3},{"h":152,"q":"f7","p":3.3},{"h":152,"q":"f8","p":3.3},{"h":152,"q":"f9","p":3.3},{"h":152,"q":"f10","p":16.7},{"h":152,"q":"f12","p":10},{"h":152,"q":"f13","p":3.3},{"h":152,"q":"f15","p":10},{"h":152,"q":"f16","p":36.7},{"h":152,"q":"f23","p":10},{"h":152,"q":"f24","p":3.3},{"h":152,"q":"f25","p":16.7},{"h":152,"q":"f26","p":16.7},{"h":152,"q":"f28","p":10},{"h":152,"q":"f29","p":10},{"h":152,"q":"f30","p":10},{"h":152,"q":"f31","p":10},{"h":152,"q":"f32","p":3.3},{"h":152,"q":"f33","p":16.7},{"h":152,"q":"f34","p":10},{"h":152,"q":"f35","p":16.7},{"h":152,"q":"f36","p":10},{"h":152,"q":"f37","p":16.7},{"h":152,"q":"f38","p":16.7},
{"h":155,"q":"f1","p":3.3},{"h":155,"q":"f2","p":3.3},{"h":155,"q":"f3","p":10},{"h":155,"q":"f4","p":10},{"h":155,"q":"f5","p":3.3},{"h":155,"q":"f6","p":3.3},{"h":155,"q":"f7","p":3.3},{"h":155,"q":"f8","p":3.3},{"h":155,"q":"f9","p":3.3},{"h":155,"q":"f10","p":16.7},{"h":155,"q":"f12","p":16.7},{"h":155,"q":"f13","p":3.3},{"h":155,"q":"f15","p":16.7},{"h":155,"q":"f16","p":36.7},{"h":155,"q":"f23","p":10},{"h":155,"q":"f24","p":10},{"h":155,"q":"f25","p":30},{"h":155,"q":"f26","p":23.3},{"h":155,"q":"f28","p":10},{"h":155,"q":"f29","p":10},{"h":155,"q":"f30","p":10},{"h":155,"q":"f31","p":10},{"h":155,"q":"f32","p":10},{"h":155,"q":"f33","p":16.7},{"h":155,"q":"f34","p":10},{"h":155,"q":"f35","p":10},{"h":155,"q":"f36","p":10},{"h":155,"q":"f37","p":16.7},{"h":155,"q":"f38","p":16.7},
{"h":163,"q":"f1","p":3.3},{"h":163,"q":"f2","p":3.3},{"h":163,"q":"f3","p":10},{"h":163,"q":"f4","p":10},{"h":163,"q":"f5","p":3.3},{"h":163,"q":"f6","p":3.3},{"h":163,"q":"f7","p":3.3},{"h":163,"q":"f8","p":10},{"h":163,"q":"f9","p":3.3},{"h":163,"q":"f10","p":10},{"h":163,"q":"f12","p":10},{"h":163,"q":"f13","p":3.3},{"h":163,"q":"f15","p":16.7},{"h":163,"q":"f16","p":43.3},{"h":163,"q":"f23","p":3.3},{"h":163,"q":"f24","p":10},{"h":163,"q":"f25","p":3.3},{"h":163,"q":"f26","p":3.3},{"h":163,"q":"f28","p":3.3},{"h":163,"q":"f29","p":3.3},{"h":163,"q":"f30","p":3.3},{"h":163,"q":"f31","p":3.3},{"h":163,"q":"f32","p":3.3},{"h":163,"q":"f33","p":3.3},{"h":163,"q":"f34","p":10},{"h":163,"q":"f35","p":16.7},{"h":163,"q":"f36","p":10},{"h":163,"q":"f37","p":16.7},{"h":163,"q":"f38","p":10},
{"h":176,"q":"f1","p":3.3},{"h":176,"q":"f2","p":3.3},{"h":176,"q":"f3","p":3.3},{"h":176,"q":"f4","p":3.3},{"h":176,"q":"f5","p":3.3},{"h":176,"q":"f6","p":3.3},{"h":176,"q":"f7","p":3.3},{"h":176,"q":"f8","p":3.3},{"h":176,"q":"f9","p":3.3},{"h":176,"q":"f10","p":3.3},{"h":176,"q":"f12","p":3.3},{"h":176,"q":"f13","p":3.3},{"h":176,"q":"f15","p":3.3},{"h":176,"q":"f16","p":96.7},{"h":176,"q":"f23","p":3.3},{"h":176,"q":"f24","p":3.3},{"h":176,"q":"f25","p":3.3},{"h":176,"q":"f26","p":3.3},{"h":176,"q":"f28","p":3.3},{"h":176,"q":"f29","p":3.3},{"h":176,"q":"f30","p":3.3},{"h":176,"q":"f31","p":3.3},{"h":176,"q":"f32","p":3.3},{"h":176,"q":"f33","p":3.3},{"h":176,"q":"f34","p":36.7},{"h":176,"q":"f35","p":36.7},{"h":176,"q":"f36","p":3.3},{"h":176,"q":"f37","p":3.3},{"h":176,"q":"f38","p":3.3},
{"h":179,"q":"f1","p":3.3},{"h":179,"q":"f2","p":3.3},{"h":179,"q":"f3","p":3.3},{"h":179,"q":"f4","p":3.3},{"h":179,"q":"f5","p":3.3},{"h":179,"q":"f6","p":3.3},{"h":179,"q":"f7","p":3.3},{"h":179,"q":"f8","p":3.3},{"h":179,"q":"f9","p":10},{"h":179,"q":"f10","p":3.3},{"h":179,"q":"f12","p":3.3},{"h":179,"q":"f13","p":3.3},{"h":179,"q":"f15","p":10},{"h":179,"q":"f16","p":10},{"h":179,"q":"f23","p":10},{"h":179,"q":"f24","p":10},{"h":179,"q":"f29","p":3.3},{"h":179,"q":"f30","p":3.3},{"h":179,"q":"f31","p":3.3},{"h":179,"q":"f32","p":3.3},{"h":179,"q":"f33","p":3.3},{"h":179,"q":"f34","p":3.3},{"h":179,"q":"f35","p":10},{"h":179,"q":"f36","p":3.3},{"h":179,"q":"f37","p":3.3},{"h":179,"q":"f38","p":10},
{"h":193,"q":"f1","p":3.3},{"h":193,"q":"f2","p":3.3},{"h":193,"q":"f3","p":3.3},{"h":193,"q":"f4","p":3.3},{"h":193,"q":"f5","p":3.3},{"h":193,"q":"f6","p":3.3},{"h":193,"q":"f7","p":3.3},{"h":193,"q":"f8","p":3.3},{"h":193,"q":"f9","p":3.3},{"h":193,"q":"f10","p":3.3},{"h":193,"q":"f12","p":3.3},{"h":193,"q":"f13","p":10},{"h":193,"q":"f15","p":3.3},{"h":193,"q":"f16","p":3.3},{"h":193,"q":"f23","p":3.3},{"h":193,"q":"f24","p":3.3},{"h":193,"q":"f25","p":16.7},{"h":193,"q":"f26","p":16.7},{"h":193,"q":"f28","p":3.3},{"h":193,"q":"f29","p":3.3},{"h":193,"q":"f30","p":3.3},{"h":193,"q":"f31","p":3.3},{"h":193,"q":"f32","p":3.3},{"h":193,"q":"f33","p":3.3},{"h":193,"q":"f34","p":10},{"h":193,"q":"f35","p":10},{"h":193,"q":"f36","p":3.3},{"h":193,"q":"f37","p":10},{"h":193,"q":"f38","p":10},
{"h":195,"q":"f1","p":3.3},{"h":195,"q":"f2","p":3.3},{"h":195,"q":"f3","p":3.3},{"h":195,"q":"f4","p":3.3},{"h":195,"q":"f5","p":3.3},{"h":195,"q":"f6","p":3.3},{"h":195,"q":"f7","p":3.3},{"h":195,"q":"f8","p":3.3},{"h":195,"q":"f9","p":3.3},{"h":195,"q":"f10","p":3.3},{"h":195,"q":"f12","p":3.3},{"h":195,"q":"f13","p":3.3},{"h":195,"q":"f15","p":3.3},{"h":195,"q":"f16","p":3.3},{"h":195,"q":"f23","p":50},{"h":195,"q":"f24","p":3.3},{"h":195,"q":"f25","p":3.3},{"h":195,"q":"f26","p":3.3},{"h":195,"q":"f28","p":3.3},{"h":195,"q":"f29","p":3.3},{"h":195,"q":"f30","p":3.3},{"h":195,"q":"f31","p":16.7},{"h":195,"q":"f32","p":3.3},{"h":195,"q":"f33","p":3.3},{"h":195,"q":"f34","p":3.3},{"h":195,"q":"f35","p":23.3},{"h":195,"q":"f36","p":3.3},{"h":195,"q":"f37","p":3.3},{"h":195,"q":"f38","p":10},
{"h":201,"q":"f1","p":3.3},{"h":201,"q":"f2","p":3.3},{"h":201,"q":"f3","p":3.3},{"h":201,"q":"f4","p":3.3},{"h":201,"q":"f5","p":3.3},{"h":201,"q":"f6","p":3.3},{"h":201,"q":"f7","p":3.3},{"h":201,"q":"f8","p":3.3},{"h":201,"q":"f9","p":3.3},{"h":201,"q":"f10","p":10},{"h":201,"q":"f12","p":16.7},{"h":201,"q":"f13","p":3.3},{"h":201,"q":"f15","p":16.7},{"h":201,"q":"f16","p":50},{"h":201,"q":"f23","p":3.3},{"h":201,"q":"f24","p":3.3},{"h":201,"q":"f25","p":96.7},{"h":201,"q":"f26","p":3.3},{"h":201,"q":"f28","p":96.7},{"h":201,"q":"f29","p":10},{"h":201,"q":"f30","p":10},{"h":201,"q":"f31","p":3.3},{"h":201,"q":"f32","p":10},{"h":201,"q":"f33","p":3.3},{"h":201,"q":"f34","p":10},{"h":201,"q":"f35","p":10},{"h":201,"q":"f36","p":3.3},{"h":201,"q":"f37","p":16.7},{"h":201,"q":"f38","p":23.3},
{"h":204,"q":"f1","p":3.3},{"h":204,"q":"f2","p":3.3},{"h":204,"q":"f3","p":3.3},{"h":204,"q":"f4","p":3.3},{"h":204,"q":"f5","p":3.3},{"h":204,"q":"f6","p":3.3},{"h":204,"q":"f7","p":3.3},{"h":204,"q":"f8","p":3.3},{"h":204,"q":"f9","p":3.3},{"h":204,"q":"f10","p":3.3},{"h":204,"q":"f12","p":3.3},{"h":204,"q":"f13","p":3.3},{"h":204,"q":"f15","p":3.3},{"h":204,"q":"f16","p":3.3},{"h":204,"q":"f23","p":3.3},{"h":204,"q":"f24","p":3.3},{"h":204,"q":"f25","p":3.3},{"h":204,"q":"f26","p":3.3},{"h":204,"q":"f28","p":3.3},{"h":204,"q":"f29","p":3.3},{"h":204,"q":"f30","p":3.3},{"h":204,"q":"f31","p":3.3},{"h":204,"q":"f32","p":3.3},{"h":204,"q":"f33","p":3.3},{"h":204,"q":"f34","p":3.3},{"h":204,"q":"f35","p":3.3},{"h":204,"q":"f36","p":3.3},{"h":204,"q":"f37","p":16.7},{"h":204,"q":"f38","p":3.3},
{"h":208,"q":"f1","p":3.3},{"h":208,"q":"f2","p":3.3},{"h":208,"q":"f3","p":3.3},{"h":208,"q":"f4","p":3.3},{"h":208,"q":"f5","p":3.3},{"h":208,"q":"f6","p":3.3},{"h":208,"q":"f7","p":3.3},{"h":208,"q":"f8","p":3.3},{"h":208,"q":"f9","p":3.3},{"h":208,"q":"f10","p":3.3},{"h":208,"q":"f13","p":3.3},{"h":208,"q":"f15","p":3.3},{"h":208,"q":"f16","p":3.3},{"h":208,"q":"f23","p":96.7},{"h":208,"q":"f24","p":3.3},{"h":208,"q":"f29","p":3.3},{"h":208,"q":"f30","p":3.3},{"h":208,"q":"f31","p":3.3},{"h":208,"q":"f32","p":3.3},{"h":208,"q":"f33","p":3.3},{"h":208,"q":"f34","p":3.3},{"h":208,"q":"f35","p":3.3},{"h":208,"q":"f36","p":3.3},{"h":208,"q":"f37","p":3.3},{"h":208,"q":"f38","p":3.3},
{"h":209,"q":"f1","p":3.3},{"h":209,"q":"f2","p":3.3},{"h":209,"q":"f3","p":10},{"h":209,"q":"f4","p":10},{"h":209,"q":"f5","p":3.3},{"h":209,"q":"f6","p":3.3},{"h":209,"q":"f7","p":3.3},{"h":209,"q":"f8","p":10},{"h":209,"q":"f9","p":3.3},{"h":209,"q":"f10","p":10},{"h":209,"q":"f12","p":16.7},{"h":209,"q":"f13","p":3.3},{"h":209,"q":"f15","p":10},{"h":209,"q":"f16","p":36.7},{"h":209,"q":"f23","p":10},{"h":209,"q":"f24","p":10},{"h":209,"q":"f25","p":30},{"h":209,"q":"f26","p":30},{"h":209,"q":"f28","p":10},{"h":209,"q":"f29","p":10},{"h":209,"q":"f30","p":10},{"h":209,"q":"f31","p":10},{"h":209,"q":"f32","p":10},{"h":209,"q":"f33","p":16.7},{"h":209,"q":"f34","p":10},{"h":209,"q":"f35","p":16.7},{"h":209,"q":"f36","p":10},{"h":209,"q":"f37","p":16.7},{"h":209,"q":"f38","p":16.7},
{"h":212,"q":"f1","p":3.3},{"h":212,"q":"f2","p":3.3},{"h":212,"q":"f3","p":3.3},{"h":212,"q":"f4","p":3.3},{"h":212,"q":"f5","p":3.3},{"h":212,"q":"f6","p":3.3},{"h":212,"q":"f7","p":3.3},{"h":212,"q":"f8","p":3.3},{"h":212,"q":"f9","p":3.3},{"h":212,"q":"f10","p":3.3},{"h":212,"q":"f12","p":3.3},{"h":212,"q":"f13","p":3.3},{"h":212,"q":"f15","p":10},{"h":212,"q":"f16","p":30},{"h":212,"q":"f23","p":3.3},{"h":212,"q":"f24","p":3.3},{"h":212,"q":"f25","p":10},{"h":212,"q":"f26","p":23.3},{"h":212,"q":"f28","p":3.3},{"h":212,"q":"f29","p":10},{"h":212,"q":"f30","p":10},{"h":212,"q":"f31","p":3.3},{"h":212,"q":"f32","p":16.7},{"h":212,"q":"f33","p":16.7},{"h":212,"q":"f34","p":10},{"h":212,"q":"f35","p":10},{"h":212,"q":"f36","p":3.3},{"h":212,"q":"f37","p":36.7},{"h":212,"q":"f38","p":10}
]},
"mark": {"type": "rect", "strokeWidth": 0.6},
"encoding": {
"x": {"field": "q", "type": "nominal",
 "sort": ["f1","f2","f3","f4","f5","f6","f7","f8","f9","f10","f12","f13","f15","f16","f23","f24","f25","f26","f28","f29","f30","f31","f32","f33","f34","f35","f36","f37","f38"],
 "scale": {"range": [13, 972], "paddingInner": 0, "paddingOuter": 0},
 "axis": {"title": "Question", "titleFontSize": 32, "titleFontWeight": "normal", "titleColor": "black", "titlePadding": 10, "labelAngle": 270, "labelFontSize": 11, "labelColor": "black", "labelPadding": 6, "tickColor": "black", "tickSize": 7, "domain": false}},
"y": {"field": "h", "type": "ordinal",
 "scale": {"range": [14, 448], "paddingInner": 0, "paddingOuter": 0},
 "axis": {"title": "Hospital", "titleFontSize": 32, "titleFontWeight": "normal", "titleColor": "black", "titlePadding": 18, "labelFontSize": 11.5, "labelColor": "black", "labelPadding": 2, "tickColor": "black", "tickSize": 6, "domain": false}},
"color": {"field": "p", "type": "ordinal",
 "scale": {"domain": [96.7, 90, 83.3, 76.7, 70, 63.3, 56.7, 50, 43.3, 36.7, 30, 23.3, 16.7, 10, 3.3],
  "range": ["#FDE725", "#D0E11C", "#A0DA39", "#73D056", "#4AC16D", "#2DB27D", "#1FA188", "#21918C", "#277F8E", "#2E6E8E", "#365C8D", "#3F4889", "#46337E", "#482173", "#440154"]},
 "legend": {"title": "Percentage", "orient": "none", "legendX": 995, "legendY": 42, "strokeColor": "black", "padding": 12, "titleFontSize": 22, "titleFontWeight": "normal", "titleColor": "black", "titlePadding": 3, "labelFontSize": 12.5, "labelColor": "black", "labelOffset": 11.5, "labelExpr": "format(datum.value, '.1f')", "symbolType": "M-1.227,-1H1.227V1H-1.227Z", "symbolSize": 484, "symbolStrokeWidth": 0, "symbolOpacity": 1, "symbolOffset": 28, "rowPadding": 0}},
"stroke": {"field": "p", "type": "ordinal", "legend": null,
 "scale": {"domain": [96.7, 90, 83.3, 76.7, 70, 63.3, 56.7, 50, 43.3, 36.7, 30, 23.3, 16.7, 10, 3.3],
  "range": ["#FDE725", "#D0E11C", "#A0DA39", "#73D056", "#4AC16D", "#2DB27D", "#1FA188", "#21918C", "#277F8E", "#2E6E8E", "#365C8D", "#3F4889", "#46337E", "#482173", "#440154"]}}
}
}
